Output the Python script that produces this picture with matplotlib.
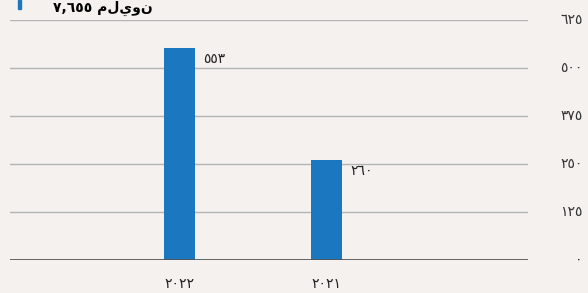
import matplotlib.pyplot as plt

# data
years = ['٢٠٢٢', '٢٠٢١']
values = [553, 260]
value_labels = ['٥٥٣', '٢٦٠']
yticks = [0, 125, 250, 375, 500, 625]
ytick_labels = ['٠', '١٢٥', '٢٥٠', '٣٧٥', '٥٠٠', '٦٢٥']
title = '٧,٦٥٥ مليون'

bg = '#f4f1ee'
blue = '#1b77c0'

plt.rcParams['font.family'] = ['DejaVu Sans']

fig = plt.figure(figsize=(5.88, 2.93), dpi=100, facecolor=bg)
ax = fig.add_axes([10 / 588, 33 / 293, 518 / 588, 240 / 293])
ax.set_facecolor(bg)

x = range(len(values))
ax.bar(x, values, width=0.21, color=blue, zorder=3)

for xi, v, lab in zip(x, values, value_labels):
    ax.annotate(lab, (xi + 0.105, v), xytext=(6, -3), textcoords='offset points',
                ha='left', va='top', fontsize=10, color='#222222')

ax.set_xlim(-1.153, 2.371)
ax.set_ylim(0, 625)

for t in yticks[1:]:
    ax.axhline(t, color='#b4b4b4', lw=1, zorder=1)
ax.axhline(0, color='#555555', lw=2, zorder=4)

for t, lab in zip(yticks, ytick_labels):
    ax.text(1.105, t, lab, transform=ax.get_yaxis_transform(), ha='right', va='center',
            fontsize=10, color='#333333')

for xi, lab in zip(x, years):
    ax.annotate(lab, (xi, 0), xytext=(0, -12), textcoords='offset points',
                ha='center', va='top', fontsize=10, color='#222222')

for s in ax.spines.values():
    s.set_visible(False)
ax.set_xticks([])
ax.set_yticks([])

fig.text(0.175, 1 - 1 / 293, title, ha='center', va='top', fontsize=10, fontweight='bold',
         color='black')
fig.patches.append(plt.Rectangle((18 / 588, 1 - 9 / 293), 3 / 588, 9 / 293,
                                 transform=fig.transFigure, color=blue))

fig.savefig('out.png', dpi=100, facecolor=bg)
